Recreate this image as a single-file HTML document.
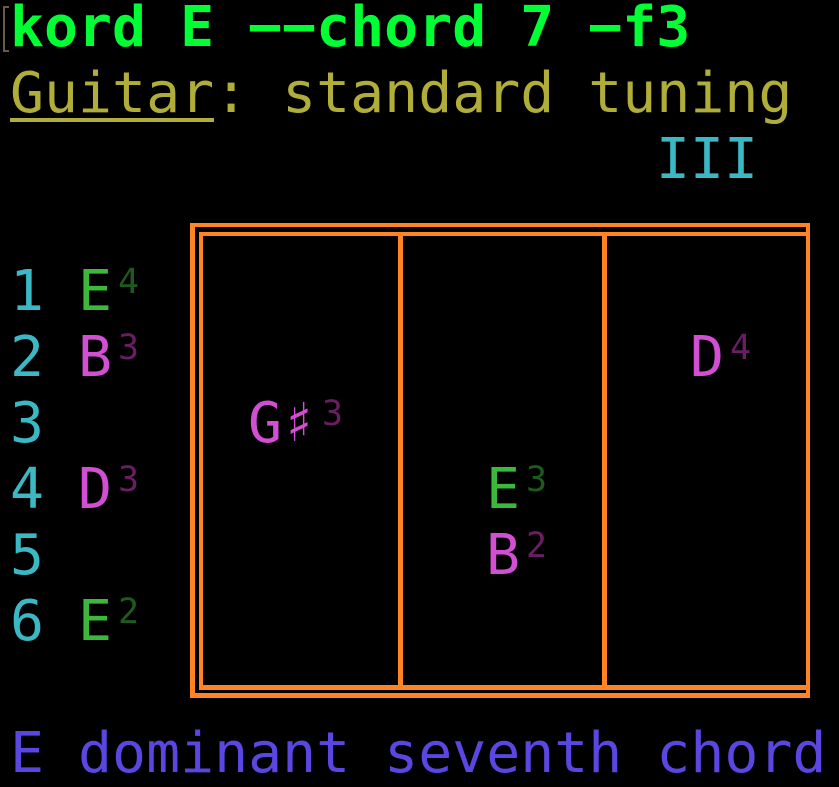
<!DOCTYPE html>
<html><head><meta charset="utf-8"><style>
html,body{margin:0;padding:0;background:#000;width:839px;height:786px;overflow:hidden}
.t{position:absolute;font-family:"DejaVu Sans Mono","Liberation Mono",monospace;font-size:56.5px;line-height:66px;white-space:pre}
.s{position:absolute;font-family:"DejaVu Sans Mono","Liberation Mono",monospace;font-size:35px;line-height:40px;white-space:pre}
.b{position:absolute;background:#ff8424}
</style></head><body>
<div style="position:absolute;left:3px;top:6px;width:4px;height:42px;border:2px solid #6b5a48;border-right:none"></div>
<div class="t" style="left:10px;top:-5px;color:#00ff33;font-weight:bold">kord E −−chord 7 −f3</div>
<div class="t" style="left:10px;top:61px;color:#b0ae38">Guitar: standard tuning</div>
<div style="position:absolute;left:10px;top:118px;width:204px;height:4px;background:#b0ae38"></div>
<div class="t" style="left:656px;top:127px;color:#3ab8c4">III</div>

<div class="b" style="left:190px;top:223px;width:620px;height:4px"></div>
<div class="b" style="left:199px;top:232px;width:611px;height:4px"></div>
<div class="b" style="left:190px;top:223px;width:5px;height:475px"></div>
<div class="b" style="left:199px;top:232px;width:4px;height:458px"></div>
<div class="b" style="left:806px;top:223px;width:4px;height:475px"></div>
<div class="b" style="left:199px;top:685px;width:611px;height:5px"></div>
<div class="b" style="left:190px;top:693px;width:620px;height:5px"></div>
<div class="b" style="left:398px;top:232px;width:5px;height:458px"></div>
<div class="b" style="left:602px;top:232px;width:5px;height:458px"></div>

<div class="t" style="left:10px;top:259px;color:#3ab8c4">1
2
3
4
5
6</div>
<div class="t" style="left:78px;top:259px;color:#3cb83c">E</div>
<div class="s" style="left:118px;top:262px;color:#1e5a1e">4</div>
<div class="t" style="left:78px;top:325px;color:#d24ed2">B</div>
<div class="s" style="left:118px;top:328px;color:#6a1e62">3</div>
<div class="t" style="left:78px;top:457px;color:#d24ed2">D</div>
<div class="s" style="left:118px;top:460px;color:#6a1e62">3</div>
<div class="t" style="left:78px;top:589px;color:#3cb83c">E</div>
<div class="s" style="left:118px;top:592px;color:#1e5a1e">2</div>

<div class="t" style="left:248px;top:391px;color:#d24ed2">G♯</div>
<div class="s" style="left:322px;top:394px;color:#6a1e62">3</div>
<div class="t" style="left:486px;top:457px;color:#3cb83c">E</div>
<div class="s" style="left:526px;top:460px;color:#1e5a1e">3</div>
<div class="t" style="left:486px;top:523px;color:#d24ed2">B</div>
<div class="s" style="left:526px;top:526px;color:#6a1e62">2</div>
<div class="t" style="left:690px;top:325px;color:#d24ed2">D</div>
<div class="s" style="left:730px;top:328px;color:#6a1e62">4</div>

<div class="t" style="left:10px;top:721px;color:#5a46e0">E dominant seventh chord</div>
</body></html>
